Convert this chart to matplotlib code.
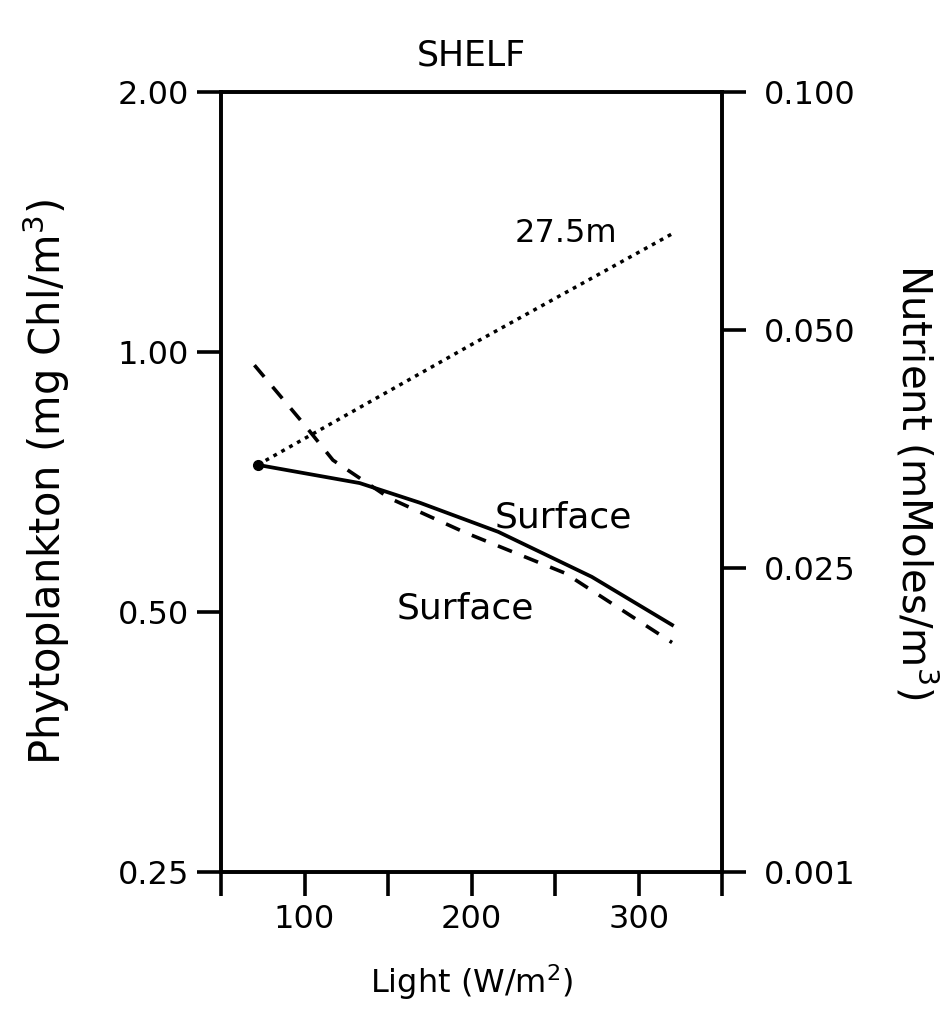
import matplotlib.pyplot as plt

# valeurs (SHELF)
light_deep = [72, 200, 320]
phyto_deep = [0.74, 1.02, 1.37]          # 27.5m, pointillé

light_surf = [72, 133, 169, 216, 272, 320]
phyto_surf = [0.740, 0.705, 0.669, 0.619, 0.549, 0.483]   # trait plein

light_nut = [70, 100, 117, 151, 196, 256, 320]
nutrient_surf = [0.0451, 0.0379, 0.0342, 0.0306, 0.0277, 0.0246, 0.0201]  # tirets

left_ticks = [0.25, 0.5, 1.0, 2.0]
left_labels = ['0.25', '0.50', '1.00', '2.00']
right_ticks = [0.0103, 0.025, 0.05, 0.1]
right_labels = ['0.001', '0.025', '0.050', '0.100']
x_ticks = [50, 100, 150, 200, 250, 300, 350]
x_labels = ['', '100', '', '200', '', '300', '']

plt.rcParams['font.family'] = ['DejaVu Sans']
fs = 23

fig = plt.figure(figsize=(9.51, 10.34), dpi=100)
ax = fig.add_axes([0.2324, 0.1567, 0.527, 0.7544])
ax2 = ax.twinx()

ax.plot(light_deep, phyto_deep, color='black', lw=2.5, linestyle=(0, (1.1, 1.5)))
ax.plot(light_surf, phyto_surf, color='black', lw=2.7)
ax.plot(light_surf[0], phyto_surf[0], 'o', color='black', ms=7)
ax2.plot(light_nut, nutrient_surf, color='black', lw=2.6, linestyle=(0, (4.2, 3.6)))

ax.set_yscale('log', base=2)
ax.set_ylim(0.25, 2.0)
ax.set_yticks(left_ticks)
ax.set_yticklabels(left_labels)
ax.minorticks_off()

ax2.set_yscale('log', base=2)
ax2.set_ylim(right_ticks[0], 0.1)
ax2.set_yticks(right_ticks)
ax2.set_yticklabels(right_labels)
ax2.minorticks_off()

ax.set_xlim(50, 350)
ax.set_xticks(x_ticks)
ax.set_xticklabels(x_labels)

for a in (ax, ax2):
    for s in a.spines.values():
        s.set_linewidth(2.6)
    a.tick_params(direction='out', length=17, width=2.6, labelsize=fs, pad=6)
ax2.tick_params(pad=13)

ax.text(287, 1.37, '27.5m', fontsize=fs, ha='right', va='center')
ax.text(214, 0.643, 'Surface', fontsize=26, ha='left', va='center')
ax.text(155, 0.505, 'Surface', fontsize=26, ha='left', va='center')

ax.set_title('SHELF', fontsize=25, pad=19)
ax.set_xlabel('Light (W/m$^2$)', fontsize=23, labelpad=20)
ax.set_ylabel('Phytoplankton (mg Chl/m$^3$)', fontsize=30, labelpad=33)
ax2.set_ylabel('Nutrient (mMoles/m$^3$)', fontsize=29, rotation=270, labelpad=60)

plt.savefig('out.png')
